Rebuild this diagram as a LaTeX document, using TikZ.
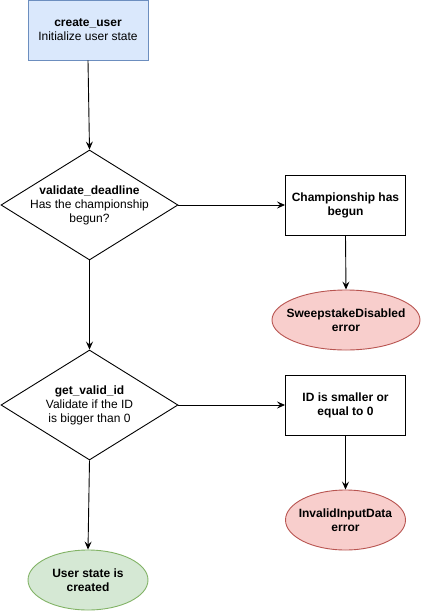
\documentclass[tikz,border=0pt]{standalone}
\usepackage{fontspec}
\setmainfont{Liberation Sans}
\usetikzlibrary{shapes.geometric,arrows.meta}
\definecolor{bluefill}{HTML}{DAE8FC}
\definecolor{bluedraw}{HTML}{6C8EBF}
\definecolor{redfill}{HTML}{F8CECC}
\definecolor{reddraw}{HTML}{B85450}
\definecolor{greenfill}{HTML}{D5E8D4}
\definecolor{greendraw}{HTML}{82B366}
\begin{document}
\begin{tikzpicture}[x=1pt,y=-1pt,
  every node/.style={font=\fontsize{12}{14}\selectfont, align=center, inner sep=0pt, line width=0.9pt},
  every label/.style={draw=none, fill=none},
  procbox/.style={draw, rectangle, minimum width=120pt, minimum height=60pt},
  decision/.style={draw, diamond, minimum width=177pt, minimum height=110pt},
  termred/.style={draw=reddraw, fill=redfill, ellipse, minimum width=120pt, minimum height=60pt},
  termgreen/.style={draw=greendraw, fill=greenfill, ellipse, minimum width=120pt, minimum height=60pt},
  conn/.style={line width=0.9pt, -{Stealth[length=8pt,width=7pt,inset=3pt]}},
]
\useasboundingbox (0,0) rectangle (421,611);
\node[procbox, draw=bluedraw, fill=bluefill] (start) at (88,30) {\textbf{create\_user}\\Initialize user state};
\node[decision, label={center:{\textbf{validate\_deadline}\\Has the championship\\begun?}}] (d1) at (89.5,205) {};
\node[procbox] (c1) at (345.5,205) {\textbf{Championship has}\\\textbf{begun}};
\node[termred, minimum width=148pt, label={center:{\textbf{SweepstakeDisabled}\\\textbf{error}}}] (e1) at (346,320) {};
\node[decision, label={center:{\textbf{get\_valid\_id}\\Validate if the ID\\is bigger than 0}}] (d2) at (89.5,405) {};
\node[procbox] (c2) at (345.5,405) {\textbf{ID is smaller or}\\\textbf{equal to 0}};
\node[termred, label={center:{\textbf{InvalidInputData}\\\textbf{error}}}] (e2) at (345.5,520) {};
\node[termgreen, label={center:{\textbf{User state is}\\\textbf{created}}}] (ok) at (88,580) {};
\draw[conn] (start.south) -- (d1.north);
\draw[conn] (d1.east) -- (c1.west);
\draw[conn] (c1.south) -- (e1.north);
\draw[conn] (d1.south) -- (d2.north);
\draw[conn] (d2.east) -- (c2.west);
\draw[conn] (c2.south) -- (e2.north);
\draw[conn] (d2.south) -- (ok.north);
\end{tikzpicture}
\end{document}
